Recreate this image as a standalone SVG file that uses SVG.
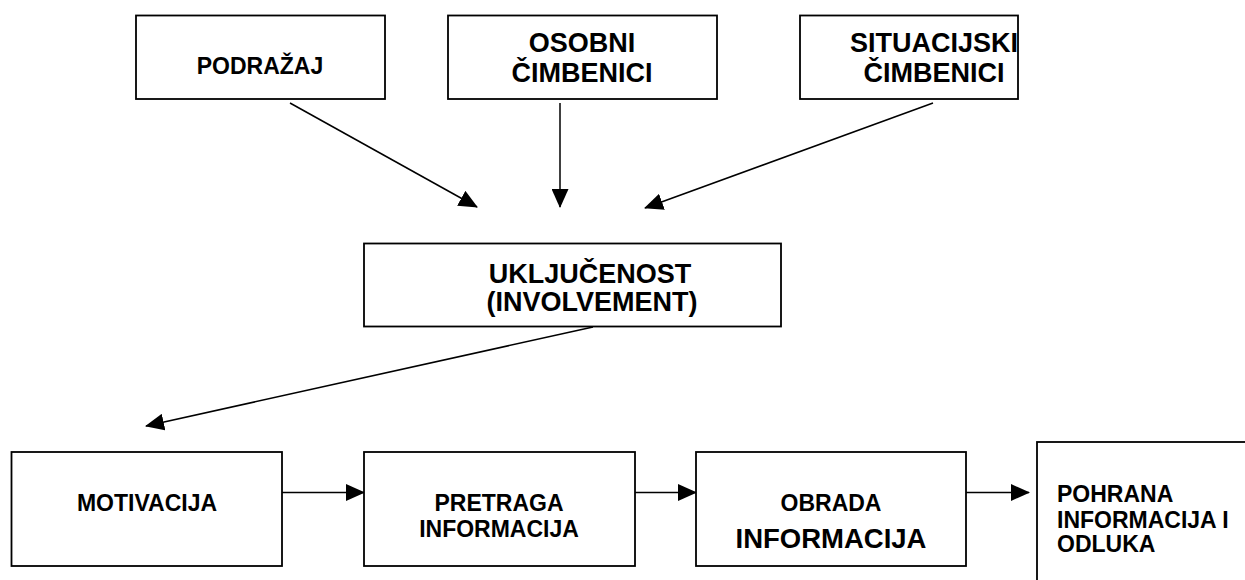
<svg xmlns="http://www.w3.org/2000/svg" width="1245" height="580" viewBox="0 0 1245 580">
<style>
.box{fill:#fff;stroke:#000;stroke-width:1.8}
.t{font-family:"Liberation Sans",Arial,sans-serif;font-weight:bold;fill:#000}
.c{stroke:#000;stroke-width:1.5;fill:none}
</style>
<defs>
<marker id="ah" markerUnits="userSpaceOnUse" markerWidth="19" markerHeight="17" viewBox="0 0 19 17" refX="18" refY="8.5" orient="auto">
<path d="M0,0 L19,8.5 L0,17 z" fill="#000"/>
</marker>
</defs>
<rect width="1245" height="580" fill="#fff"/>
<g id="connectors">
<line class="c" x1="290" y1="103" x2="477" y2="207" marker-end="url(#ah)"/>
<line class="c" x1="560" y1="103" x2="560" y2="207" marker-end="url(#ah)"/>
<line class="c" x1="933" y1="103" x2="645" y2="208" marker-end="url(#ah)"/>
<line class="c" x1="593" y1="327" x2="146" y2="426" marker-end="url(#ah)"/>
<line class="c" x1="282" y1="492.5" x2="364" y2="492.5" marker-end="url(#ah)"/>
<line class="c" x1="635" y1="492.5" x2="696" y2="492.5" marker-end="url(#ah)"/>
<line class="c" x1="966" y1="492.5" x2="1029" y2="492.5" marker-end="url(#ah)"/>
</g>
<g id="podrazaj">
<rect class="box" x="136" y="15.5" width="249" height="83.5"/>
<text class="t" x="260" y="74" font-size="23" text-anchor="middle">PODRAŽAJ</text>
</g>
<g id="osobni">
<rect class="box" x="448" y="15.5" width="269" height="83.5"/>
<text class="t" x="582" y="52" font-size="27" text-anchor="middle">OSOBNI</text>
<text class="t" x="582" y="82" font-size="27" text-anchor="middle">ČIMBENICI</text>
</g>
<g id="situacijski">
<rect class="box" x="800" y="15.5" width="218" height="83.5"/>
<text class="t" x="934" y="52" font-size="27" text-anchor="middle">SITUACIJSKI</text>
<text class="t" x="934" y="82" font-size="27" text-anchor="middle">ČIMBENICI</text>
</g>
<g id="ukljucenost">
<rect class="box" x="364" y="243.5" width="417" height="83"/>
<text class="t" x="590" y="283" font-size="27" text-anchor="middle">UKLJUČENOST</text>
<text class="t" x="592" y="311" font-size="27" text-anchor="middle">(INVOLVEMENT)</text>
</g>
<g id="motivacija">
<rect class="box" x="11.5" y="452" width="270.5" height="114"/>
<text class="t" x="147" y="511" font-size="23" text-anchor="middle">MOTIVACIJA</text>
</g>
<g id="pretraga">
<rect class="box" x="364" y="452" width="271" height="114"/>
<text class="t" x="499" y="511" font-size="23" text-anchor="middle">PRETRAGA</text>
<text class="t" x="499" y="537" font-size="23" text-anchor="middle">INFORMACIJA</text>
</g>
<g id="obrada">
<rect class="box" x="696" y="452" width="270" height="114"/>
<text class="t" x="831" y="511" font-size="23" text-anchor="middle">OBRADA</text>
<text class="t" x="831" y="548" font-size="27.5" text-anchor="middle">INFORMACIJA</text>
</g>
<g id="pohrana">
<rect class="box" x="1037" y="442" width="220" height="150"/>
<text class="t" x="1057" y="501.5" font-size="23">POHRANA</text>
<text class="t" x="1057" y="528" font-size="23">INFORMACIJA I</text>
<text class="t" x="1057" y="552" font-size="23">ODLUKA</text>
</g>
</svg>
